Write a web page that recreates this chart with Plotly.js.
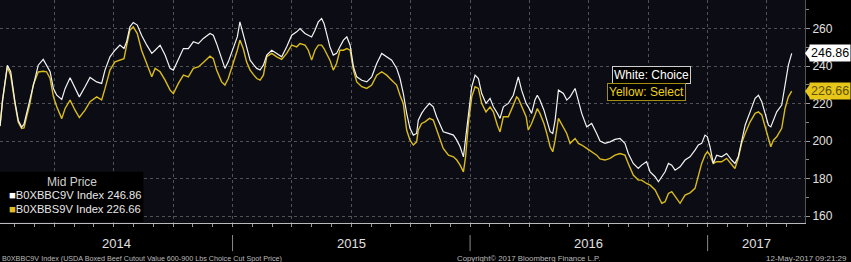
<!DOCTYPE html>
<html><head><meta charset="utf-8">
<script src="https://cdn.plot.ly/plotly-3.0.1.min.js"></script>
<style>html,body{margin:0;padding:0;background:#000;}#chart{width:851px;height:262px;}</style>
</head><body><div id="chart"></div>
<script>
// x values in decimal years
const dates = [2014.021,2014.032,2014.052,2014.066,2014.084,2014.098,2014.112,2014.122,2014.133,2014.147,
2014.161,2014.182,2014.203,2014.217,2014.232,2014.246,2014.260,2014.281,2014.295,2014.316,
2014.337,2014.355,2014.379,2014.400,2014.428,2014.449,2014.463,2014.484,2014.505,2014.526,
2014.543,2014.554,2014.568,2014.582,2014.599,2014.617,2014.639,2014.660,2014.674,2014.695,
2014.716,2014.737,2014.751,2014.772,2014.793,2014.814,2014.835,2014.856,2014.877,2014.905,
2014.919,2014.933,2014.954,2014.968,2014.982,2015.003,2015.020,2015.031,2015.045,2015.059,
2015.074,2015.090,2015.102,2015.116,2015.130,2015.144,2015.165,2015.186,2015.207,2015.228,
2015.249,2015.270,2015.284,2015.305,2015.319,2015.333,2015.347,2015.361,2015.375,2015.385,
2015.396,2015.410,2015.424,2015.438,2015.452,2015.467,2015.481,2015.495,2015.509,2015.523,
2015.544,2015.565,2015.586,2015.607,2015.628,2015.649,2015.670,2015.691,2015.705,2015.719,
2015.733,2015.747,2015.761,2015.775,2015.782,2015.796,2015.810,2015.829,2015.845,2015.859,
2015.873,2015.887,2015.909,2015.930,2015.944,2015.958,2015.972,2015.981,2015.993,2016.007,
2016.021,2016.035,2016.049,2016.067,2016.084,2016.098,2016.115,2016.126,2016.140,2016.161,
2016.182,2016.196,2016.203,2016.217,2016.236,2016.245,2016.259,2016.273,2016.283,2016.294,
2016.311,2016.323,2016.337,2016.348,2016.358,2016.372,2016.393,2016.407,2016.421,2016.442,
2016.456,2016.470,2016.491,2016.512,2016.533,2016.547,2016.568,2016.589,2016.610,2016.631,
2016.652,2016.666,2016.687,2016.708,2016.722,2016.743,2016.758,2016.779,2016.793,2016.807,
2016.821,2016.835,2016.849,2016.863,2016.884,2016.905,2016.926,2016.947,2016.961,2016.975,
2016.989,2016.999,2017.010,2017.024,2017.038,2017.059,2017.080,2017.101,2017.115,2017.129,
2017.143,2017.158,2017.179,2017.200,2017.214,2017.228,2017.242,2017.256,2017.266,2017.277,
2017.291,2017.312,2017.326,2017.340,2017.354];

const choice = [208,222,240.5,237,221,211,207.5,209,214.8,222,
230.8,240.5,243.6,240.5,237,228,224.5,222.2,228,233.8,
228,223.6,229,234,231.6,230.8,237.9,245,248.5,251.2,
249.4,253,261,263.3,261.9,256.5,251.2,246.8,248.5,251.2,
245.9,238.8,237.9,244,249.4,249.4,253,252,254.8,257.4,
256.5,252,244,238.8,242.3,249.4,255.6,263.6,257.4,250.3,
243.2,240.5,238.8,237.9,240.5,245.9,248.5,246.8,245,250.3,
256.5,258.3,260,257.4,256.5,255.6,259.2,263.6,265.4,262.8,
257.4,250.3,245.9,246.8,250.3,253.9,255.6,251.2,239.6,234.3,
232.5,231.6,234.3,241.4,246.8,245,243.2,238.8,233.4,225.4,
214.8,206.8,203.2,204.1,211.2,214.8,217.4,220.1,218.3,213,
208.5,205,204.1,203.2,200.5,197,191.6,200.5,214.8,229,
235.2,233.4,225.4,220.1,222.8,218.3,214.8,212.1,218.3,220.1,
224.5,230.8,234.3,227.2,220.1,218.3,214.8,221.9,224.5,221.9,
216.5,211.2,205,204.1,211.2,227.2,225.4,221.9,223.6,228.1,
221.9,214.8,207.6,209.4,204.1,200,198.8,199.6,200.9,201.4,
198.8,193.4,188.1,185.4,187.2,189,183.6,181,178.3,181,
183.6,188.1,187.2,184.5,186.3,189.9,191.6,195.2,197.9,198.8,
203.2,202.3,197,188.1,192.5,191.6,193.4,189.9,188.1,191.6,
200.5,208.5,215.6,222.8,224.5,221,214.8,208.5,207.6,211.2,
215.6,219.2,230.8,240.5,246.86];

const select = [208,222,239.6,235,220,210,206.8,207,213,220,
230,236.9,237.3,237,233.4,223.6,218.3,212,217.4,221.9,
216.5,212.6,216.5,221,223.6,222,228,237.9,242.3,243.2,
244,251,259.2,261,257.4,248.5,241.4,234.3,238.8,237,
232.5,227.2,225.4,230.8,235.2,234.3,238.8,239.6,242,245.3,
244,237.9,231.6,229.9,233.4,241.4,248.5,253.9,249.4,242.3,
237.9,235.2,233.4,232.5,235.2,245,246.8,245,243.6,246.8,
251.2,250.3,252.1,251.2,248.5,243.2,248.5,251.2,251.2,249.4,
246.8,243.2,237.9,241.4,248.5,248.5,249.4,248.5,237.9,231.6,
229,228.1,229.9,235.2,237,235.2,232.5,229.9,224.5,220,
205.9,200.5,197.9,199.6,205.9,209.4,210.3,212.1,211.2,205.9,
200.5,196.1,192.5,191.6,189.9,187.2,183.6,191.6,209.4,223.6,
229,228.1,220,215.6,218.3,215.6,208.5,204.9,213,213,
219.2,223.6,222.8,218.3,213,205.9,209.4,213.9,217.4,214.8,
209.4,204.1,197,194.3,200.5,212.1,206.8,204.1,198.8,201.4,
198.8,197.9,196.1,194.3,192.5,190.5,189.9,190.8,192.5,193.4,
192.5,188.1,181.9,179.2,179.2,177.4,176.5,173.9,170.3,166.8,
167.7,172.1,173,170.3,166.8,171.2,172.4,174.8,181.9,188.1,
192.5,194.3,192.5,188.1,189,189,190.8,187.2,185.4,190.8,
198.8,204.1,210.3,214.8,215.6,214,207.6,200.5,197,200.5,
202.3,206.8,217.4,223.6,226.66];

const yearLabels = ['2014','2015','2016','2017'];
const yearCenters = [2014.51, 2015.5, 2016.5, 2017.205];
const yearBounds = [2015, 2016, 2017];
const lastChoice = 246.86, lastSelect = 226.66;
const tickerChoice = 'B0XBBC9V Index', tickerSelect = 'B0XBBS9V Index';

const F = 'Liberation Sans, Arial, sans-serif';
const traces = [
  {x: dates, y: select, type:'scatter', mode:'lines', line:{color:'#d9bb1c', width:1.4}, hoverinfo:'skip'},
  {x: dates, y: choice, type:'scatter', mode:'lines', line:{color:'#f4f4f4', width:1.2}, hoverinfo:'skip'}
];

const annotations = [];
yearLabels.forEach((t,i)=>annotations.push({xref:'x', yref:'paper', x:yearCenters[i], y:-0.094, text:t, showarrow:false, font:{family:F, size:13, color:'#e0e0e0'}, yanchor:'middle'}));
annotations.push({xref:'paper', yref:'paper', x:0, y:-0.158, xanchor:'left', yanchor:'middle', showarrow:false,
  text:'B0XBBC9V Index (USDA Boxed Beef Cutout Value 600-900 Lbs Choice Cut Spot Price)', font:{family:F, size:7.2, color:'#bbbbbb'}});
annotations.push({xref:'paper', yref:'paper', x:0.656, y:-0.158, xanchor:'center', yanchor:'middle', showarrow:false,
  text:'Copyright© 2017 Bloomberg Finance L.P.', font:{family:F, size:7.8, color:'#bbbbbb'}});
annotations.push({xref:'paper', yref:'paper', x:1.055, y:-0.158, xanchor:'right', yanchor:'middle', showarrow:false,
  text:'12-May-2017 09:21:29', font:{family:F, size:8, color:'#bbbbbb'}});
// legend
annotations.push({xref:'paper', yref:'paper', x:0.09, y:0.184, xanchor:'center', yanchor:'middle', showarrow:false,
  text:'Mid Price', font:{family:F, size:12, color:'#cfcfcf'}});
annotations.push({xref:'paper', yref:'paper', x:0.009, y:0.124, xanchor:'left', yanchor:'middle', showarrow:false,
  text:'<span style="color:#ffffff">■</span>'+tickerChoice+' '+lastChoice.toFixed(2), font:{family:F, size:11.2, color:'#e8e8e8'}});
annotations.push({xref:'paper', yref:'paper', x:0.009, y:0.061, xanchor:'left', yanchor:'middle', showarrow:false,
  text:'<span style="color:#e0c020">■</span>'+tickerSelect+' '+lastSelect.toFixed(2), font:{family:F, size:11.2, color:'#e8e8e8'}});
// boxes
annotations.push({xref:'x', yref:'y', x:2016.762, y:235.5, showarrow:false, text:'White: Choice',
  font:{family:F, size:12, color:'#ffffff'}, bgcolor:'#000000', bordercolor:'#cfcfcf', borderwidth:1, borderpad:1});
annotations.push({xref:'x', yref:'y', x:2016.741, y:226.1, showarrow:false, text:'Yellow: Select',
  font:{family:F, size:12, color:'#ecd21a'}, bgcolor:'#000000', bordercolor:'#a08f10', borderwidth:1, borderpad:1});
// value tags
annotations.push({xref:'paper', yref:'y', x:1, xshift:4, xanchor:'left', y:lastChoice, yanchor:'middle', showarrow:false,
  text:lastChoice.toFixed(2), font:{family:F, size:12.5, color:'#000000'}, bgcolor:'#ffffff', borderpad:1});
annotations.push({xref:'paper', yref:'y', x:1, xshift:4, xanchor:'left', y:lastSelect, yanchor:'middle', showarrow:false,
  text:lastSelect.toFixed(2), font:{family:F, size:12.5, color:'#5e5000'}, bgcolor:'#e6c619', borderpad:1});

const shapes = [];
yearBounds.forEach(b=>shapes.push({type:'line', xref:'x', yref:'paper', x0:b, x1:b, y0:-0.054, y1:-0.126, line:{color:'#8a8a8a', width:1}}));
// legend background
shapes.push({type:'rect', xref:'paper', yref:'paper', x0:0, x1:0.178, y0:0.005, y1:0.23, fillcolor:'#000000', line:{width:0}, layer:'above'});
// tag pointers
shapes.push({type:'path', xref:'paper', yref:'y', xsizemode:'pixel', ysizemode:'pixel', xanchor:1, yanchor:lastChoice,
  path:'M0,0 L5,7 L5,-7 Z', fillcolor:'#ffffff', line:{width:0}});
shapes.push({type:'path', xref:'paper', yref:'y', xsizemode:'pixel', ysizemode:'pixel', xanchor:1, yanchor:lastSelect,
  path:'M0,0 L5,7 L5,-7 Z', fillcolor:'#e6c619', line:{width:0}});

const layout = {
  width:851, height:262,
  margin:{l:0, r:46, t:0, b:39},
  paper_bgcolor:'#000000', plot_bgcolor:'#0b0c14',
  showlegend:false,
  xaxis:{type:'linear', range:[2014.021, 2017.410], tick0:2014, dtick:0.25, showticklabels:false,
    showgrid:true, gridcolor:'rgba(140,140,140,0.55)', griddash:'dot', gridwidth:1,
    ticks:'outside', ticklen:3, tickcolor:'#999', showline:true, linecolor:'#bbbbbb', linewidth:1, zeroline:false,
    minor:{tick0:2014, dtick:1/12, ticks:'outside', ticklen:3, tickcolor:'#999', showgrid:false}},
  yaxis:{side:'right', range:[156.3, 275.3], tick0:0, dtick:20, showgrid:true, gridcolor:'rgba(140,140,140,0.55)',
    griddash:'dot', ticks:'outside', ticklen:4, tickcolor:'#999', showline:true, linecolor:'#555', zeroline:false,
    tickfont:{family:F, size:12, color:'#e0e0e0'},
    minor:{dtick:10, ticks:'outside', ticklen:3, tickcolor:'#888', showgrid:false}},
  annotations, shapes
};
Plotly.newPlot('chart', traces, layout, {displayModeBar:false, staticPlot:true});
</script></body></html>
